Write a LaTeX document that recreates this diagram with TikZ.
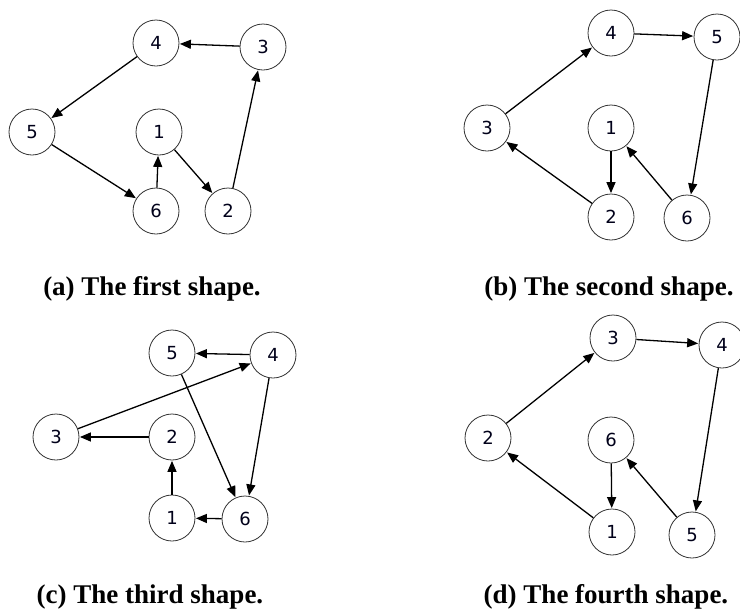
\documentclass[tikz,border=0pt]{standalone}
\usepackage{fontspec}
\setmainfont{Liberation Serif}
\newfontfamily\digitfont{DejaVu Sans}
\usetikzlibrary{arrows.meta}
\tikzset{
  vert/.style={circle, draw=black!80, line width=0.8pt, minimum size=46pt, inner sep=0pt,
    font=\digitfont\fontsize{18}{18}\selectfont, text=black!90!blue},
  edge/.style={line width=1.3pt, -{Triangle[length=11pt,width=9pt]}, shorten >=0.5pt},
  captext/.style={anchor=base, font=\bfseries\fontsize{27}{27}\selectfont, inner sep=0pt}
}
\begin{document}
\begin{tikzpicture}[x=1pt, y=-1pt]
\useasboundingbox (0,0) rectangle (740,611);

% first shape
\node[vert] (a4) at (156,43) {4};
\node[vert] (a3) at (263,47) {3};
\node[vert] (a5) at (32,132) {5};
\node[vert] (a1) at (159,132) {1};
\node[vert] (a6) at (156,211) {6};
\node[vert] (a2) at (228,211) {2};
\draw[edge] (a3) -- (a4);
\draw[edge] (a4) -- (a5);
\draw[edge] (a5) -- (a6);
\draw[edge] (a6) -- (a1);
\draw[edge] (a1) -- (a2);
\draw[edge] (a2) -- (a3);
\node[captext] (capa) at (152,295) {(a) The first shape.};

% second shape
\node[vert] (b4) at (611,33) {4};
\node[vert] (b5) at (717,37) {5};
\node[vert] (b3) at (487,128) {3};
\node[vert] (b1) at (611,128) {1};
\node[vert] (b2) at (611,217) {2};
\node[vert] (b6) at (687,218) {6};
\draw[edge] (b3) -- (b4);
\draw[edge] (b4) -- (b5);
\draw[edge] (b5) -- (b6);
\draw[edge] (b6) -- (b1);
\draw[edge] (b1) -- (b2);
\draw[edge] (b2) -- (b3);
\node[captext] (capb) at (609,295) {(b) The second shape.};

% third shape
\node[vert] (c5) at (172,353) {5};
\node[vert] (c4) at (273,355) {4};
\node[vert] (c3) at (56,437) {3};
\node[vert] (c2) at (172,437) {2};
\node[vert] (c1) at (172,518) {1};
\node[vert] (c6) at (245,519) {6};
\draw[edge] (c4) -- (c5);
\draw[edge] (c3) -- (c4);
\draw[edge] (c2) -- (c3);
\draw[edge] (c1) -- (c2);
\draw[edge] (c6) -- (c1);
\draw[edge] (c5) -- (c6);
\draw[edge] (c4) -- (c6);
\node[captext] (capc) at (150,603) {(c) The third shape.};

% fourth shape
\node[vert] (d3) at (613,338) {3};
\node[vert] (d4) at (722,345) {4};
\node[vert] (d2) at (488,438) {2};
\node[vert] (d6) at (611,440) {6};
\node[vert] (d1) at (612,532) {1};
\node[vert] (d5) at (692,535) {5};
\draw[edge] (d2) -- (d3);
\draw[edge] (d3) -- (d4);
\draw[edge] (d4) -- (d5);
\draw[edge] (d5) -- (d6);
\draw[edge] (d6) -- (d1);
\draw[edge] (d1) -- (d2);
\node[captext] (capd) at (606,603) {(d) The fourth shape.};
\end{tikzpicture}
\end{document}
